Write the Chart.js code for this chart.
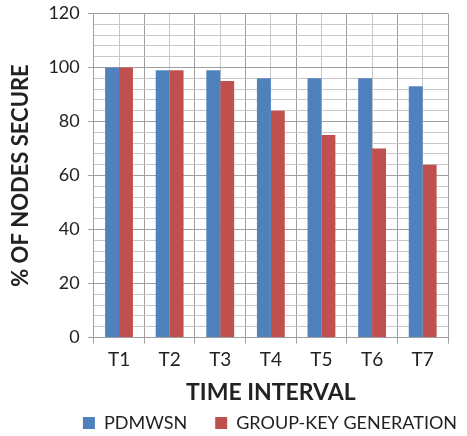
<!DOCTYPE html>
<html>
<head>
<meta charset="utf-8">
<script src="https://cdn.jsdelivr.net/npm/chart.js@4"></script>
<style>
  body { margin: 0; background: #fff; }
  #wrap { width: 467px; height: 436px; }
</style>
</head>
<body>
<div id="wrap"><canvas id="myChart"></canvas></div>
<script>
var labels = ['T1', 'T2', 'T3', 'T4', 'T5', 'T6', 'T7'];
var pdmwsn = [100, 99, 99, 96, 96, 96, 93];
var groupKey = [100, 99, 95, 84, 75, 70, 64];

var font = "Lato, 'Open Sans', sans-serif";
var majorGrid = '#a0a0a0';
var minorGrid = '#c8c8c8';

// nudge the legend to the right, like the original
var legendShift = {
  id: 'legendShift',
  afterLayout: function (chart) {
    chart.legend.left += 42;
    chart.legend.right += 42;
  }
};

var ctx = document.getElementById('myChart').getContext('2d');
var myChart = new Chart(ctx, {
  type: 'bar',
  data: {
    labels: labels,
    datasets: [{
      data: pdmwsn,
      label: 'PDMWSN',
      backgroundColor: '#4F81BD',
      categoryPercentage: 0.55,
      barPercentage: 1.0
    }, {
      data: groupKey,
      label: 'GROUP-KEY GENERATION',
      backgroundColor: '#C0504D',
      categoryPercentage: 0.55,
      barPercentage: 1.0
    }]
  },
  plugins: [legendShift],
  options: {
    responsive: true,
    maintainAspectRatio: false,
    animation: false,
    layout: { padding: { top: 0, right: 19, left: 8, bottom: -6 } },
    plugins: {
      tooltip: { enabled: false },
      legend: {
        position: 'bottom',
        labels: {
          boxWidth: 12,
          boxHeight: 12,
          padding: 28,
          color: '#222',
          font: { family: font, size: 18 }
        }
      }
    },
    scales: {
      x: {
        grid: {
          color: majorGrid,
          tickColor: majorGrid,
          tickLength: 6
        },
        border: { color: majorGrid },
        ticks: { color: '#222', padding: 5, font: { family: font, size: 19 } },
        title: {
          display: true,
          text: 'TIME INTERVAL',
          color: '#222',
          padding: { top: 2, bottom: -20 },
          font: { family: font, size: 23, weight: 'bold' }
        }
      },
      x2: {
        type: 'category',
        labels: labels,
        position: 'bottom',
        offset: true,
        grid: { offset: false, color: minorGrid, drawTicks: false },
        border: { display: false },
        ticks: { display: false },
        afterFit: function (s) { s.height = 0; }
      },
      y: {
        min: 0,
        max: 120,
        afterBuildTicks: function (s) {
          var t = [];
          for (var v = 0; v <= 120; v += 4) t.push({ value: v });
          s.ticks = t;
        },
        ticks: {
          autoSkip: false,
          color: '#222',
          padding: 8,
          font: { family: font, size: 18, lineHeight: 0.6 },
          callback: function (v) { return v % 20 === 0 ? v : ''; }
        },
        grid: {
          color: function (c) { return c.tick.value % 20 === 0 ? majorGrid : minorGrid; },
          tickColor: function (c) { return c.tick.value % 20 === 0 ? majorGrid : 'rgba(0,0,0,0)'; },
          tickLength: 6
        },
        border: { color: majorGrid },
        title: {
          display: true,
          text: '% OF NODES SECURE',
          color: '#222',
          padding: { top: 0, bottom: 6 },
          font: { family: font, size: 22, weight: 'bold' }
        }
      }
    }
  }
});
</script>
</body>
</html>
